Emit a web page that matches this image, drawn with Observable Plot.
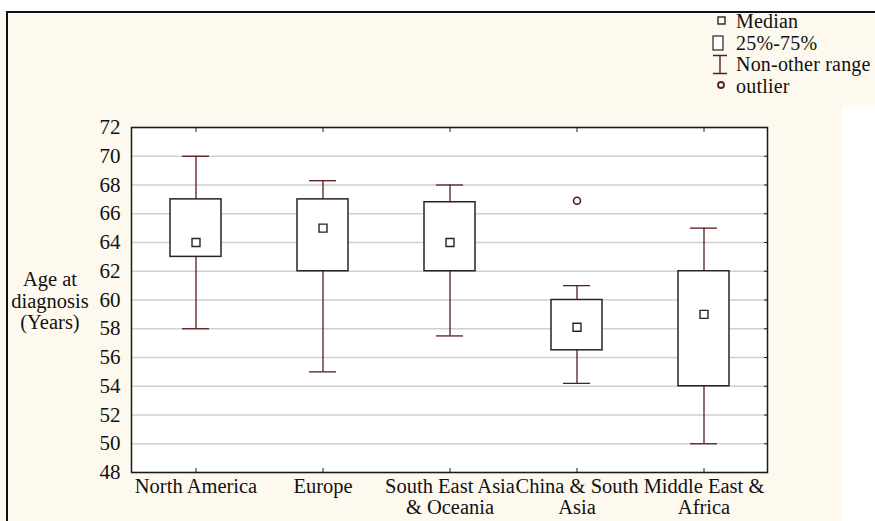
<!DOCTYPE html>
<html>
<head>
<meta charset="utf-8">
<script src="https://cdn.jsdelivr.net/npm/d3@7"></script>
<script src="https://cdn.jsdelivr.net/npm/@observablehq/plot@0.6"></script>
<style>
  html, body { margin: 0; padding: 0; }
  body { width: 875px; height: 521px; position: relative; overflow: hidden; background: #fdf9ef; font-family: "Liberation Serif", "Times New Roman", serif; }
  #topwhite { position: absolute; left: 0; top: 0; width: 875px; height: 11px; background: #fff; }
  #topborder { position: absolute; left: 6px; top: 11px; width: 869px; height: 2px; background: #111; }
  #leftborder { position: absolute; left: 6px; top: 11px; width: 2px; height: 510px; background: #111; }
  #rightwhite { position: absolute; left: 842px; top: 107px; width: 33px; height: 414px; background: #fff; }
  #chart { position: absolute; left: 0; top: 0; }
  #ytitle { position: absolute; left: 0px; top: 269px; width: 100px; text-align: center; font-size: 20.5px; line-height: 21.5px; color: #111; }
  #legend { position: absolute; left: 700px; top: 0px; }
</style>
</head>
<body>
<div id="topwhite"></div>
<div id="topborder"></div>
<div id="leftborder"></div>
<div id="rightwhite"></div>
<div id="chart"></div>
<div id="ytitle">Age at<br>diagnosis<br>(Years)</div>
<div id="legend"></div>
<script>
const regions = ["North America", "Europe", "South East Asia & Oceania", "China & South Asia", "Middle East & Africa"];
const regionLabels = ["North America", "Europe", "South East Asia\n& Oceania", "China & South\nAsia", "Middle East &\nAfrica"];
const whiskerLow  = [58, 55, 57.5, 54.2, 50];
const q1          = [63, 62, 62, 56.5, 54];
const medians     = [64, 65, 64, 58.1, 59];
const q3          = [67, 67, 66.8, 60, 62];
const whiskerHigh = [70, 68.3, 68, 61, 65];
const outlierRegions = ["China & South Asia"];
const outlierValues  = [66.9];
const yTicks = [48, 50, 52, 54, 56, 58, 60, 62, 64, 66, 68, 70, 72];
const legendItems = ["Median", "25%-75%", "Non-other range", "outlier"];

const data = regions.map((r, i) => ({region: r, lo: whiskerLow[i], q1: q1[i], med: medians[i], q3: q3[i], hi: whiskerHigh[i]}));
const outliers = outlierRegions.map((r, i) => ({region: r, v: outlierValues[i]}));
const labelOf = new Map(regions.map((r, i) => [r, regionLabels[i]]));

const boxStroke = "#2b2222";
const whiskerStroke = "#5a1c20";
const FONT = "Liberation Serif, Times New Roman, serif";

const chart = Plot.plot({
  width: 875,
  height: 521,
  marginLeft: 131,
  marginRight: 108,
  marginTop: 127,
  marginBottom: 49,
  style: {background: "transparent", fontFamily: FONT, fontSize: "21px", color: "#111"},
  x: {type: "band", domain: regions, padding: 0, label: null},
  y: {domain: [48, 72], label: null},
  marks: [
    Plot.frame({fill: "white", stroke: null}),
    Plot.gridY(yTicks, {stroke: "#cfcfcf", strokeOpacity: 1, strokeWidth: 1.3}),
    Plot.ruleX(data, {x: "region", y1: "lo", y2: "q1", stroke: whiskerStroke, strokeWidth: 1.3}),
    Plot.ruleX(data, {x: "region", y1: "q3", y2: "hi", stroke: whiskerStroke, strokeWidth: 1.3}),
    Plot.tickY(data, {x: "region", y: "lo", stroke: whiskerStroke, strokeWidth: 1.3, insetLeft: 50, insetRight: 50}),
    Plot.tickY(data, {x: "region", y: "hi", stroke: whiskerStroke, strokeWidth: 1.3, insetLeft: 50, insetRight: 50}),
    Plot.barY(data, {x: "region", y1: "q1", y2: "q3", fill: "white", stroke: boxStroke, strokeWidth: 1.5, insetLeft: 38, insetRight: 38}),
    Plot.dot(data, {x: "region", y: "med", symbol: "square", r: 4.5, fill: "white", stroke: boxStroke, strokeWidth: 1.4}),
    Plot.dot(outliers, {x: "region", y: "v", r: 3.5, fill: "white", stroke: whiskerStroke, strokeWidth: 1.6}),
    Plot.axisY(yTicks, {anchor: "left", tickSize: 0, tickPadding: 11, fontSize: 21, fill: "#111"}),
    Plot.axisY(yTicks, {anchor: "right", tickSize: -4, text: null, stroke: "#222"}),
    Plot.axisX(regions, {anchor: "bottom", tickSize: -4, tickPadding: 9, fontSize: 20.5, fill: "#111", lineHeight: 1.04, tickFormat: d => labelOf.get(d), stroke: "#222"}),
    Plot.axisX(regions, {anchor: "top", tickSize: -4, text: null, stroke: "#222"}),
    Plot.frame({stroke: "#1a1a1a", strokeWidth: 1.5})
  ]
});
document.getElementById("chart").appendChild(chart);

// legend (single small svg)
const svg = d3.select("#legend").append("svg")
  .attr("width", 175).attr("height", 100)
  .style("font-family", FONT).style("font-size", "20px");
svg.append("rect").attr("x", 18).attr("y", 17).attr("width", 7).attr("height", 7)
  .attr("fill", "white").attr("stroke", boxStroke).attr("stroke-width", 1.4);
svg.append("rect").attr("x", 13).attr("y", 36).attr("width", 10).attr("height", 14)
  .attr("fill", "white").attr("stroke", boxStroke).attr("stroke-width", 1.2);
svg.append("path").attr("d", "M13,55.5H27M20,55.5V73.5M13,73.5H27")
  .attr("fill", "none").attr("stroke", whiskerStroke).attr("stroke-width", 1.4);
svg.append("circle").attr("cx", 21).attr("cy", 85).attr("r", 3)
  .attr("fill", "white").attr("stroke", whiskerStroke).attr("stroke-width", 1.8);
const baselines = [28, 49.5, 71, 92.5];
svg.selectAll("text.lg").data(legendItems).join("text")
  .attr("class", "lg")
  .attr("x", 36)
  .attr("y", (d, i) => baselines[i])
  .attr("fill", "#111")
  .style("letter-spacing", "0.2px")
  .text(d => d);
</script>
</body>
</html>
